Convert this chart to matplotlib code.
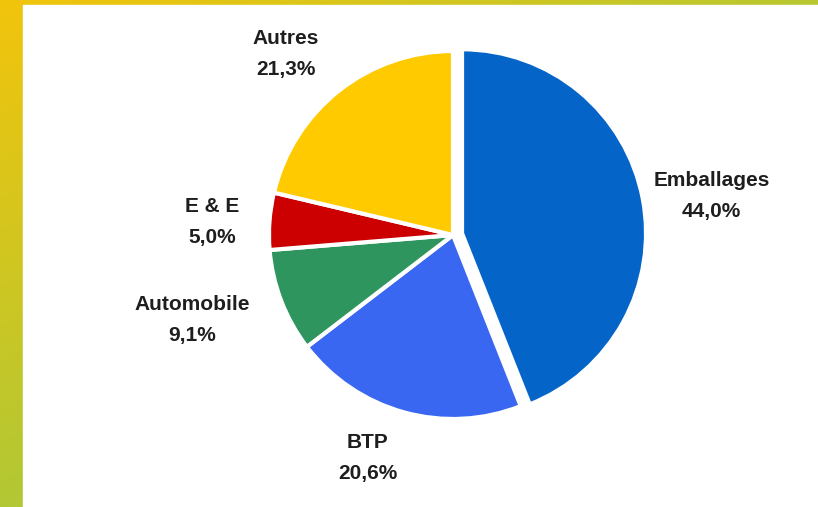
import numpy as np
import matplotlib.pyplot as plt
from matplotlib.patches import Rectangle

# Data
labels = ['Emballages', 'BTP', 'Automobile', 'E & E', 'Autres']
shares = [44.0, 20.6, 9.1, 5.0, 21.3]
colors = ['#0464C8', '#3A67F2', '#2E955E', '#CC0000', '#FFCA00']
explode = [0.05, 0, 0, 0, 0]
# label placement (radius factor, angle tweak in degrees)
label_dist = [1.42, 1.30, 1.49, 1.31, 1.34]
label_turn = [-2.3, -5.4, -3.1, 1.3, 4.3]

plt.rcParams['font.family'] = ['Liberation Sans', 'DejaVu Sans']

W, H = 818, 507
fig = plt.figure(figsize=(W / 100, H / 100), dpi=100)

# Gradient frame (yellow top-left to lime green)
bg = fig.add_axes([0, 0, 1, 1])
yy, xx = np.mgrid[0:1:200j, 0:1:300j]
t = np.clip(0.9 * xx + yy, 0, 1)[..., None]
c0 = np.array([242, 196, 12]) / 255
c1 = np.array([178, 200, 52]) / 255
bg.imshow(c0 * (1 - t) + c1 * t, extent=[0, W, H, 0], aspect='auto')
bg.add_patch(Rectangle((23, 5), W - 23, H - 5, color='white'))
bg.set_xlim(0, W)
bg.set_ylim(H, 0)
bg.axis('off')

# Pie: center (453, 235) px, radius 184 px
L = 1.6
S = 2 * L * 184
cx, cy = 453, 235
ax = fig.add_axes([(cx - S / 2) / W, (H - cy - S / 2) / H, S / W, S / H])
wedges, _ = ax.pie(shares, colors=colors, explode=explode, startangle=90,
                   counterclock=False, radius=1,
                   wedgeprops=dict(edgecolor='white', linewidth=3))
ax.set_xlim(-L, L)
ax.set_ylim(-L, L)
ax.set_aspect('equal')
ax.axis('off')

for w, name, val, d, turn in zip(wedges, labels, shares, label_dist, label_turn):
    ang = np.deg2rad((w.theta1 + w.theta2) / 2 + turn)
    ax.text(d * np.cos(ang), d * np.sin(ang),
            f"{name}\n{val:.1f}%".replace('.', ','),
            ha='center', va='center', fontsize=15, fontweight='bold',
            color='#1e1e1e', linespacing=1.8)

fig.savefig('out.png', dpi=100)
